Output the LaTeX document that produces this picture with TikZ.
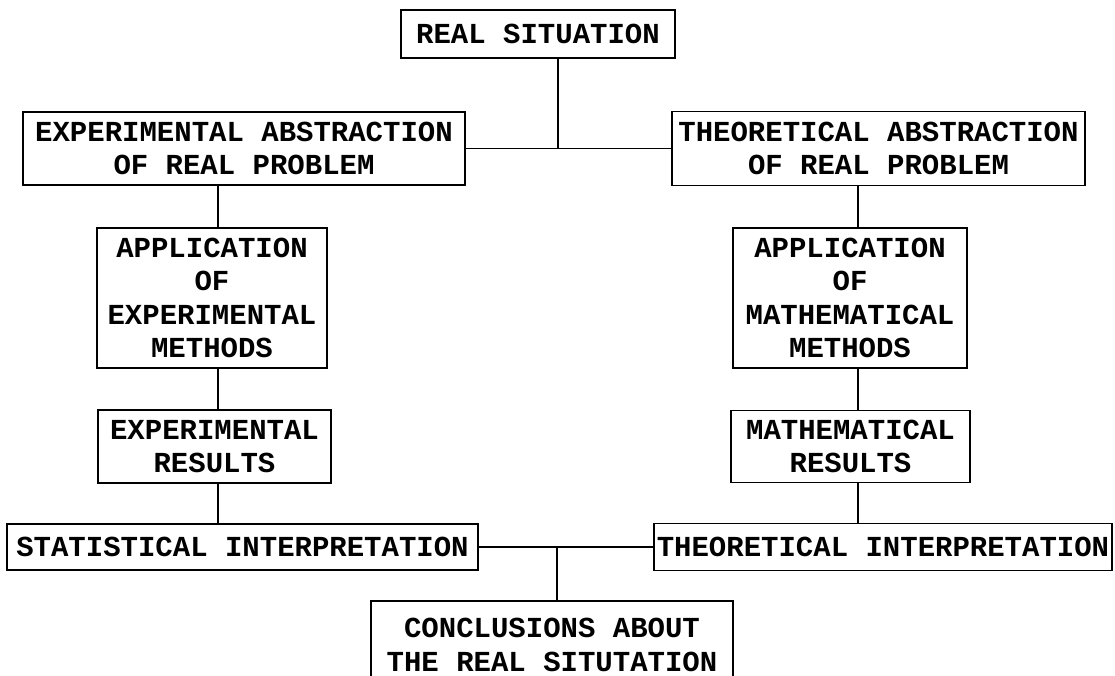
\documentclass[tikz,border=0pt]{standalone}
\usepackage{fontspec}
\setmonofont{Liberation Mono}
\begin{document}
\begin{tikzpicture}[
    box/.style={draw, rectangle, line width=1pt, inner sep=0pt, align=center,
        font=\ttfamily\bfseries\fontsize{16.5}{19}\selectfont},
    link/.style={line width=1.1pt}]
    \useasboundingbox (0,0) rectangle (22.3,13.5);

    % Real situation
    \node[box, minimum width=5.48cm, minimum height=0.96cm] (real) at (10.76,12.82) {REAL SITUATION};

    % Abstractions
    \node[box, minimum width=8.84cm, minimum height=1.46cm] (expabs) at (4.88,10.53) {EXPERIMENTAL ABSTRACTION\\OF REAL PROBLEM};
    \node[box, minimum width=8.26cm, minimum height=1.48cm] (theoabs) at (17.57,10.53) {THEORETICAL ABSTRACTION\\OF REAL PROBLEM};

    % Methods
    \node[box, minimum width=4.6cm, minimum height=2.8cm] (expapp) at (4.24,7.54) {APPLICATION\\OF\\EXPERIMENTAL\\METHODS};
    \node[box, minimum width=4.68cm, minimum height=2.8cm] (mathapp) at (17.0,7.54) {APPLICATION\\OF\\MATHEMATICAL\\METHODS};

    % Results
    \node[box, minimum width=4.66cm, minimum height=1.46cm] (expres) at (4.29,4.57) {EXPERIMENTAL\\RESULTS};
    \node[box, minimum width=4.78cm, minimum height=1.44cm] (mathres) at (17.01,4.57) {MATHEMATICAL\\RESULTS};

    % Interpretations
    \node[box, minimum width=9.42cm, minimum height=0.92cm] (stat) at (4.85,2.56) {STATISTICAL INTERPRETATION};
    \node[box, minimum width=9.16cm, minimum height=0.94cm] (theoint) at (17.66,2.56) {THEORETICAL INTERPRETATION};

    % Conclusions (cut at the bottom edge)
    \node[box, minimum width=7.24cm, minimum height=1.76cm] (concl) at (11.04,0.60) {CONCLUSIONS ABOUT\\THE REAL SITUTATION};

    \coordinate (topjoin) at (11.16,10.53);
    \coordinate (botjoin) at (11.14,2.56);
    \coordinate (leftcol) at (4.36,0);
    \coordinate (rightcol) at (17.16,0);

    % Connectors
    \draw[link] (real.south -| topjoin) -- (topjoin);
    \draw[link] (expabs.east) -- (theoabs.west);
    \draw[link] (expabs.south -| leftcol) -- (expapp.north -| leftcol);
    \draw[link] (expapp.south -| leftcol) -- (expres.north -| leftcol);
    \draw[link] (expres.south -| leftcol) -- (stat.north -| leftcol);
    \draw[link] (theoabs.south -| rightcol) -- (mathapp.north -| rightcol);
    \draw[link] (mathapp.south -| rightcol) -- (mathres.north -| rightcol);
    \draw[link] (mathres.south -| rightcol) -- (theoint.north -| rightcol);
    \draw[link] (stat.east) -- (theoint.west);
    \draw[link] (botjoin) -- (concl.north -| botjoin);
\end{tikzpicture}
\end{document}
